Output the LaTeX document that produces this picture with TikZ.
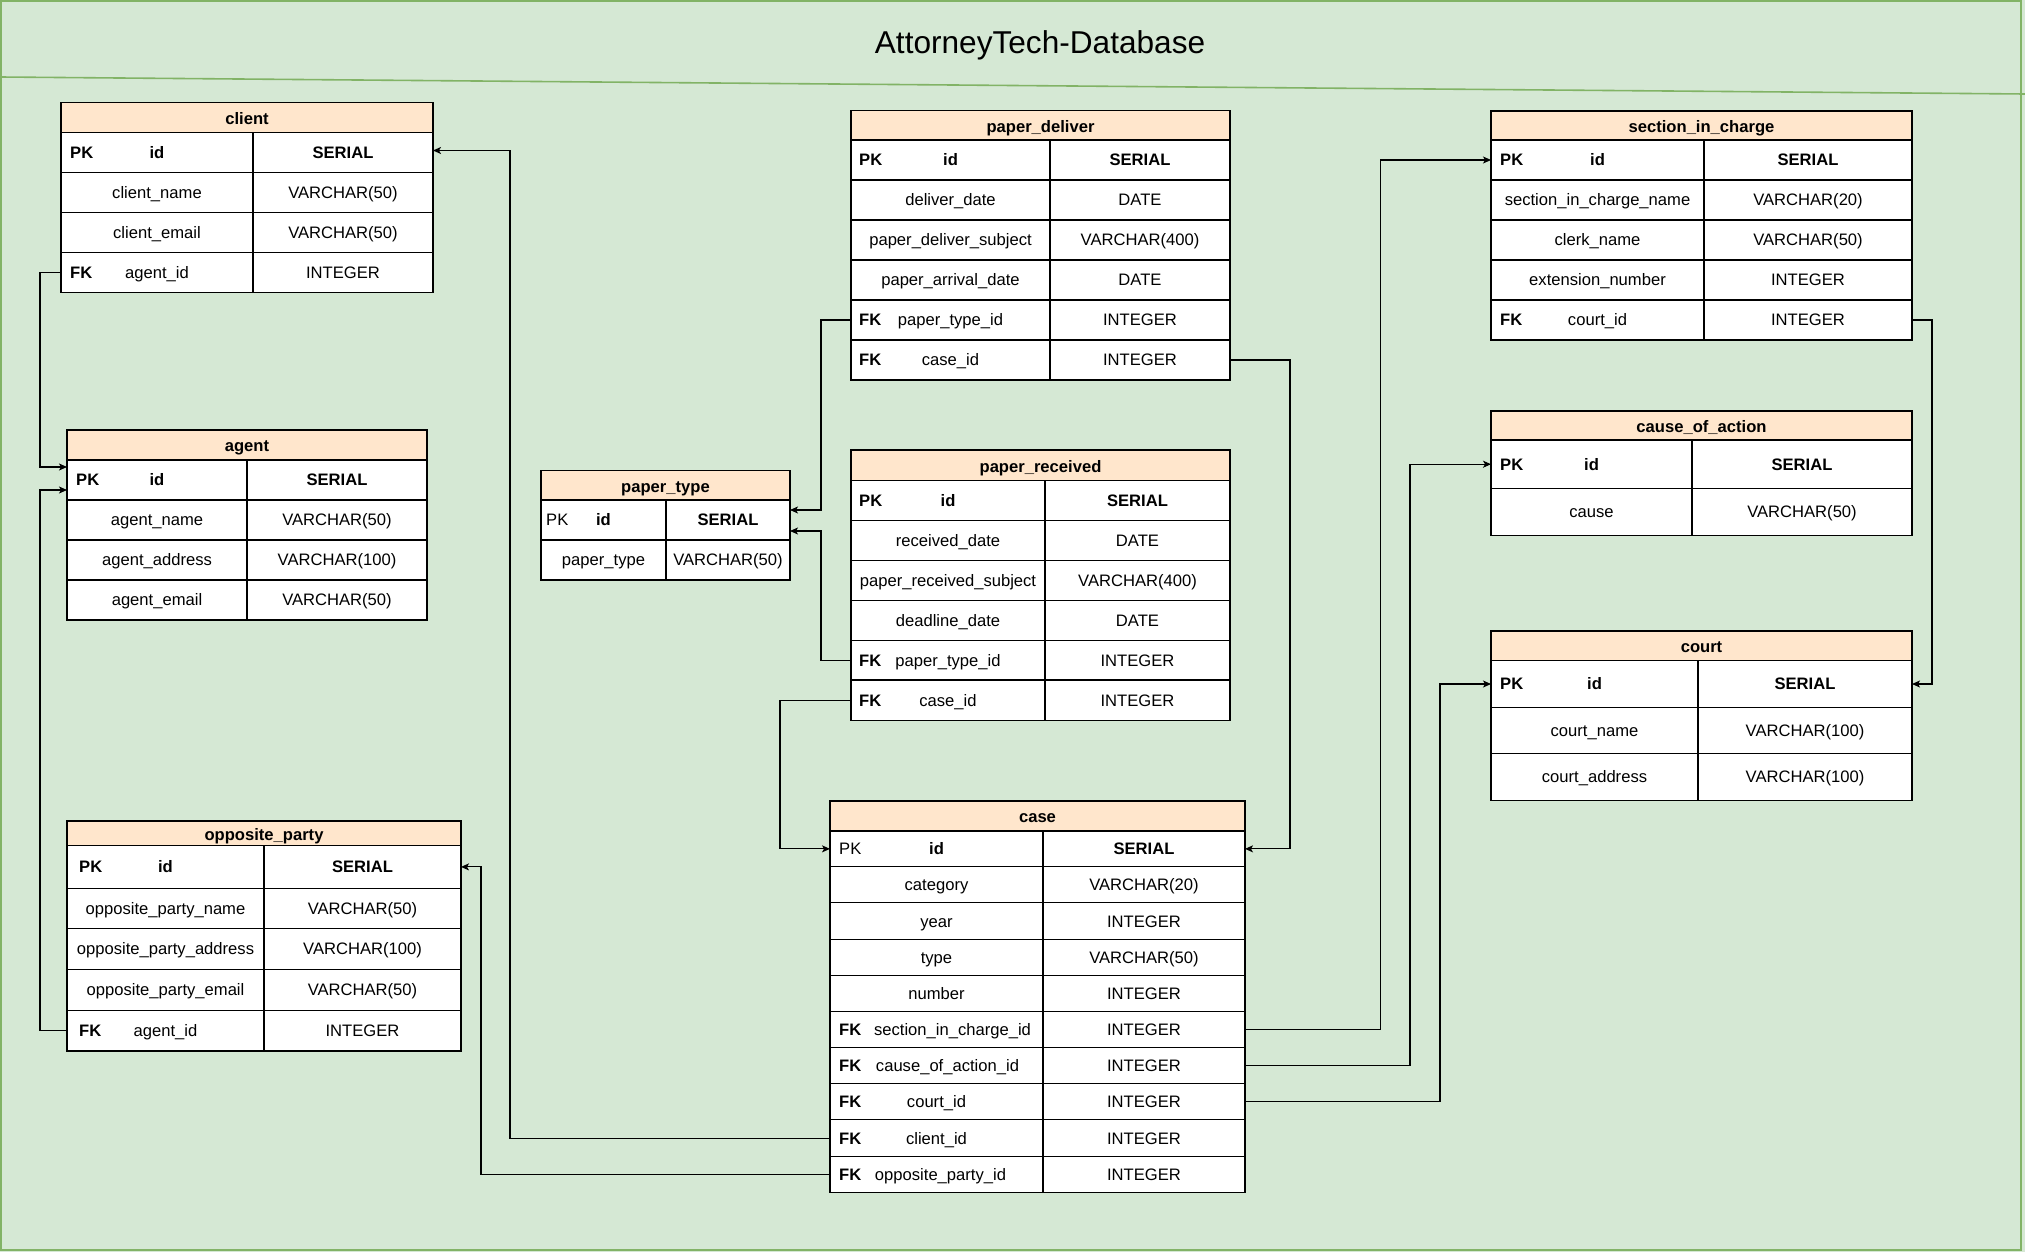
\documentclass[tikz,border=0pt]{standalone}
\usepackage{fontspec}
\setmainfont{Liberation Sans}
\usetikzlibrary{fit,arrows.meta}
\definecolor{bggreen}{HTML}{D5E8D4}
\definecolor{bdgreen}{HTML}{82B366}
\definecolor{peach}{HTML}{FFE6CC}
\newcommand\ehead[4]{%
  \node[hdrbox, fit={(\xa,#2)(\xb,#3)}] (#1) {};
  \node[hdrtxt] (#1-title) at ({(\xa+\xb)/2},{(#2+#3)/2+1}) {#4};
}
\newcommand\erow[7]{%
  \node[cellbox, fit={(\xa,#2)(\xd,#3)}] (#1-l) {};
  \node[cellbox, fit={(\xd,#2)(\xb,#3)}] (#1-r) {};
  \node[txt, anchor=west] (#1-k) at ({\xa+\kx},{(#2+#3)/2}) {#4};
  \node[txt] (#1-f) at ({(\xa+\xd)/2+#7},{(#2+#3)/2}) {#5};
  \node[txt] (#1-t) at ({(\xd+\xb)/2},{(#2+#3)/2}) {#6};
}
\begin{document}
\begin{tikzpicture}[x=1pt,y=-1pt,
  cellbox/.style={draw=black, fill=white, line width=1.1pt, inner sep=0pt, outer sep=0pt},
  hdrbox/.style={draw=black, fill=peach, line width=1.1pt, inner sep=0pt, outer sep=0pt},
  txt/.style={inner sep=0pt, font=\fontsize{16.6}{20}\selectfont, text height=11.8pt, text depth=0pt},
  hdrtxt/.style={txt, font=\fontsize{16.6}{20}\selectfont\bfseries},
  titletxt/.style={inner sep=0pt, font=\fontsize{31.6}{36}\selectfont, text height=22pt, text depth=0pt},
  conn/.style={draw=black, line width=1.1pt, -{Stealth[length=8pt,width=7pt,inset=2pt]}},
]
\useasboundingbox (0,0) rectangle (2025,1252);
\fill[bggreen] (0,0) rectangle (2025,1252);
\draw[bdgreen, line width=2pt] (1,1) rectangle (2021,1250);
\draw[bdgreen, line width=1.6pt] (0,77) -- (2025,94);
\node[titletxt] (title) at (1040,42.5) {AttorneyTech-Database};

% client
\def\xa{61}\def\xd{253}\def\xb{433}\def\kx{9}
\ehead{client}{102.5}{132.5}{client}
\erow{client-r1}{132.5}{172.5}{\textbf{PK}}{\textbf{id}}{\textbf{SERIAL}}{0}
\erow{client-r2}{172.5}{212.5}{}{client\_name}{VARCHAR(50)}{0}
\erow{client-r3}{212.5}{252.5}{}{client\_email}{VARCHAR(50)}{0}
\erow{client-r4}{252.5}{292.5}{\textbf{FK}}{agent\_id}{INTEGER}{0}

% agent
\def\xa{67}\def\xd{247}\def\xb{427}\def\kx{9}
\ehead{agent}{430}{460}{agent}
\erow{agent-r1}{460}{500}{\textbf{PK}}{\textbf{id}}{\textbf{SERIAL}}{0}
\erow{agent-r2}{500}{540}{}{agent\_name}{VARCHAR(50)}{0}
\erow{agent-r3}{540}{580}{}{agent\_address}{VARCHAR(100)}{0}
\erow{agent-r4}{580}{620}{}{agent\_email}{VARCHAR(50)}{0}

% opposite_party
\def\xa{67}\def\xd{264}\def\xb{461}\def\kx{12}
\ehead{opp}{821}{845.5}{opposite\_party}
\erow{opp-r1}{845.5}{888.3}{\textbf{PK}}{\textbf{id}}{\textbf{SERIAL}}{0}
\erow{opp-r2}{888.3}{928.3}{}{opposite\_party\_name}{VARCHAR(50)}{0}
\erow{opp-r3}{928.3}{969.3}{}{opposite\_party\_address}{VARCHAR(100)}{0}
\erow{opp-r4}{969.3}{1010.7}{}{opposite\_party\_email}{VARCHAR(50)}{0}
\erow{opp-r5}{1010.7}{1051}{\textbf{FK}}{agent\_id}{INTEGER}{0}

% paper_type
\def\xa{541}\def\xd{666}\def\xb{790}\def\kx{5}
\ehead{ptype}{470.5}{500}{paper\_type}
\erow{ptype-r1}{500}{540}{PK}{\textbf{id}}{\textbf{SERIAL}}{0}
\erow{ptype-r2}{540}{580}{}{paper\_type}{VARCHAR(50)}{0}

% paper_deliver
\def\xa{851}\def\xd{1050}\def\xb{1230}\def\kx{8}
\ehead{pdel}{110.5}{140}{paper\_deliver}
\erow{pdel-r1}{140}{180}{\textbf{PK}}{\textbf{id}}{\textbf{SERIAL}}{0}
\erow{pdel-r2}{180}{220}{}{deliver\_date}{DATE}{0}
\erow{pdel-r3}{220}{260}{}{paper\_deliver\_subject}{VARCHAR(400)}{0}
\erow{pdel-r4}{260}{300}{}{paper\_arrival\_date}{DATE}{0}
\erow{pdel-r5}{300}{340}{\textbf{FK}}{paper\_type\_id}{INTEGER}{0}
\erow{pdel-r6}{340}{380}{\textbf{FK}}{case\_id}{INTEGER}{0}

% paper_received
\def\xa{851}\def\xd{1045}\def\xb{1230}\def\kx{8}
\ehead{prec}{450}{480.4}{paper\_received}
\erow{prec-r1}{480.4}{520.4}{\textbf{PK}}{\textbf{id}}{\textbf{SERIAL}}{0}
\erow{prec-r2}{520.4}{560.4}{}{received\_date}{DATE}{0}
\erow{prec-r3}{560.4}{600.4}{}{paper\_received\_subject}{VARCHAR(400)}{0}
\erow{prec-r4}{600.4}{640.4}{}{deadline\_date}{DATE}{0}
\erow{prec-r5}{640.4}{680}{\textbf{FK}}{paper\_type\_id}{INTEGER}{0}
\erow{prec-r6}{680}{720.4}{\textbf{FK}}{case\_id}{INTEGER}{0}

% case
\def\xa{830}\def\xd{1043}\def\xb{1245}\def\kx{9}
\ehead{case}{801}{831}{case}
\erow{case-r1}{831}{866.7}{PK}{\textbf{id}}{\textbf{SERIAL}}{0}
\erow{case-r2}{866.7}{902.7}{}{category}{VARCHAR(20)}{0}
\erow{case-r3}{902.7}{939.7}{}{year}{INTEGER}{0}
\erow{case-r4}{939.7}{975.7}{}{type}{VARCHAR(50)}{0}
\erow{case-r5}{975.7}{1011.7}{}{number}{INTEGER}{0}
\erow{case-r6}{1011.7}{1047.7}{\textbf{FK}}{section\_in\_charge\_id}{INTEGER}{16}
\erow{case-r7}{1047.7}{1083.7}{\textbf{FK}}{cause\_of\_action\_id}{INTEGER}{11}
\erow{case-r8}{1083.7}{1119.7}{\textbf{FK}}{court\_id}{INTEGER}{0}
\erow{case-r9}{1119.7}{1156.7}{\textbf{FK}}{client\_id}{INTEGER}{0}
\erow{case-r10}{1156.7}{1192.3}{\textbf{FK}}{opposite\_party\_id}{INTEGER}{4}

% section_in_charge
\def\xa{1491}\def\xd{1704}\def\xb{1912}\def\kx{9}
\ehead{sic}{111}{140}{section\_in\_charge}
\erow{sic-r1}{140}{180}{\textbf{PK}}{\textbf{id}}{\textbf{SERIAL}}{0}
\erow{sic-r2}{180}{220}{}{section\_in\_charge\_name}{VARCHAR(20)}{0}
\erow{sic-r3}{220}{260}{}{clerk\_name}{VARCHAR(50)}{0}
\erow{sic-r4}{260}{300}{}{extension\_number}{INTEGER}{0}
\erow{sic-r5}{300}{340}{\textbf{FK}}{court\_id}{INTEGER}{0}

% cause_of_action
\def\xa{1491}\def\xd{1692}\def\xb{1912}\def\kx{9}
\ehead{coa}{411}{440}{cause\_of\_action}
\erow{coa-r1}{440}{488.4}{\textbf{PK}}{\textbf{id}}{\textbf{SERIAL}}{0}
\erow{coa-r2}{488.4}{535.3}{}{cause}{VARCHAR(50)}{0}

% court
\def\xa{1491}\def\xd{1698}\def\xb{1912}\def\kx{9}
\ehead{court}{631}{660.6}{court}
\erow{court-r1}{660.6}{707.4}{\textbf{PK}}{\textbf{id}}{\textbf{SERIAL}}{0}
\erow{court-r2}{707.4}{753.3}{}{court\_name}{VARCHAR(100)}{0}
\erow{court-r3}{753.3}{800.2}{}{court\_address}{VARCHAR(100)}{0}

% connectors
\draw[conn] (client-r4-l.west) -- ++(-21,0) |- ([yshift=13pt]agent-r1-l.west);
\draw[conn] (opp-r5-l.west) -- ++(-27,0) |- ([yshift=-10pt]agent-r1-l.west);
\draw[conn] (case-r9-l.west) -| ([xshift=77pt,yshift=2pt]client-r1-r.east) -- ([yshift=2pt]client-r1-r.east);
\draw[conn] (case-r10-l.west) -| ([xshift=20pt]opp-r1-r.east) -- (opp-r1-r.east);
\draw[conn] (pdel-r5-l.west) -- ++(-30,0) |- ([yshift=10pt]ptype-r1-r.east);
\draw[conn] (prec-r5-l.west) -- ++(-30,0) |- ([yshift=-11pt]ptype-r1-r.east);
\draw[conn] (prec-r6-l.west) -- ++(-71,0) |- (case-r1-l.west);
\draw[conn] (pdel-r6-r.east) -- ++(60,0) |- (case-r1-r.east);
\draw[conn] (case-r6-r.east) -- ++(135.6,0) |- (sic-r1-l.west);
\draw[conn] (case-r7-r.east) -- ++(165,0) |- (coa-r1-l.west);
\draw[conn] (case-r8-r.east) -- ++(195,0) |- (court-r1-l.west);
\draw[conn] (sic-r5-r.east) -- ++(20,0) |- (court-r1-r.east);
\end{tikzpicture}
\end{document}
